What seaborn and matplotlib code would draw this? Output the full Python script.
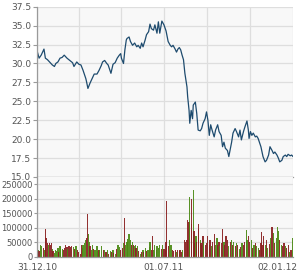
import numpy as np
import pandas as pd
import matplotlib
matplotlib.use("Agg")
import matplotlib.pyplot as plt
import matplotlib.dates as mdates
import matplotlib.transforms as mtrans
import matplotlib.ticker as mticker
import seaborn as sns

# ---------------- data ----------------
start_date = "2010-12-31"
end_date = "2012-01-02"

# price: day offset from start_date and closing value
price_day = [0, 3, 6, 10, 12, 15, 19, 22, 25, 27, 30, 33, 36, 39, 43, 47, 51, 53, 57, 60,
             63, 66, 70, 71, 73, 76, 79, 82, 86, 89, 92,
             94, 97, 100, 102, 106, 109, 112, 115, 118, 120, 121, 124, 126, 128, 129, 132,
             134, 137, 140, 143, 145, 148, 150, 152, 155, 157, 160, 162, 164, 167, 169, 172,
             174, 176, 179, 182, 185,
             188, 191, 193, 195, 198, 200, 202, 204, 206, 208, 210, 212, 215, 216, 218, 219,
             221, 223, 224, 227, 229, 231, 234, 236, 238, 241, 243, 245, 247, 249, 251, 254,
             256, 259, 261, 264, 266, 268, 270, 273, 275,
             279, 281, 284, 286, 289, 291, 293, 296, 298, 301, 303, 304, 306, 308, 310, 313,
             315, 317, 321, 324, 327, 329, 332, 334, 337, 339, 341, 344, 346, 348, 351, 353,
             356, 358, 360, 363, 365, 367]
price = [31.7, 30.7, 31.1, 31.9, 30.7, 30.5, 30.1, 29.8, 29.6, 30.0, 30.2, 30.7, 30.8, 31.1, 30.7, 30.4, 30.1, 29.6, 30.2, 29.9,
         29.8, 29.1, 28.0, 27.6, 26.7, 27.4, 28.0, 28.6, 28.6, 29.1, 29.7,
         30.2, 30.4, 30.0, 29.8, 28.7, 29.9, 30.1, 30.7, 31.1, 31.3, 30.7, 30.0, 31.8, 33.1, 33.3, 33.5,
         32.9, 32.4, 32.7, 32.2, 32.4, 32.0, 32.7, 32.2, 33.1, 33.8, 34.2, 35.2, 34.6, 34.4, 35.1, 34.0,
         35.5, 34.0, 35.6, 35.1, 34.3,
         32.9, 32.4, 32.2, 32.4, 31.9, 31.5, 31.9, 32.1, 31.8, 31.1, 30.5, 28.7, 26.9, 25.6, 23.8, 22.1,
         23.8, 22.7, 24.5, 24.9, 23.4, 21.2, 21.1, 21.4, 22.1, 22.7, 23.6, 22.5, 20.5, 21.9, 21.2, 20.3,
         21.2, 21.9, 21.0, 20.5, 19.0, 19.6, 18.8, 18.5, 17.7,
         19.6, 20.8, 21.4, 21.0, 20.3, 21.2, 19.9, 21.0, 21.6, 22.4, 21.2, 20.1, 21.0, 20.5, 20.8, 20.3,
         20.4, 20.1, 19.0, 17.7, 17.0, 17.2, 17.9, 19.0, 18.5, 18.1, 18.3, 17.9, 17.5, 17.0, 17.2, 17.7,
         17.9, 17.7, 18.0, 17.8, 17.9, 17.7]

# volume: day offset, volume (thousand shares), up-day flag (1 = green, 0 = red)
vol_day = [0, 2, 3, 5, 7, 9, 11, 12, 13, 15, 16, 18, 19, 21, 22, 23, 25, 26, 28, 30,
           31, 33, 34, 36, 38, 39, 41, 43, 44, 46, 48, 50, 52, 54, 56, 58, 60, 62, 64, 65,
           66, 68, 69, 71, 72, 74, 75, 76, 78, 79, 81, 82, 84, 86, 87, 89,
           90, 93, 95, 97, 99, 101, 103, 105, 107, 109, 110, 112, 114, 116, 118, 120, 122, 124, 125, 127,
           129, 130, 132, 134, 135, 137, 138, 140, 141, 142, 144, 146, 148, 150, 152, 153, 155, 157, 159, 161,
           162, 164, 166, 167, 169, 171, 172, 174, 176, 178, 180, 182, 184,
           185, 186, 188, 190, 192, 194, 196, 198, 200, 202, 204, 205, 207, 209, 211, 213, 215, 216, 218, 219,
           221, 222, 224, 225, 226, 228, 229, 231, 232, 234, 235, 236, 238, 239, 241, 243, 245, 247, 248, 250,
           252, 254, 256, 258, 259, 261, 262, 264, 266, 268, 269, 271, 273, 275, 277,
           279, 280, 282, 284, 286, 288, 290, 292, 294, 296, 298, 300, 301, 303, 305, 307, 309, 311, 313, 315,
           317, 319, 321, 322, 324, 325, 327, 329, 331, 333, 335, 337, 339, 341, 343, 345, 346, 348, 350, 352,
           354, 356, 358, 360, 362, 364, 366]
volume_k = [58, 23, 21, 40, 36, 30, 23, 96, 64, 46, 40, 46, 40, 46, 27, 21, 14, 22, 21, 30,
            17, 36, 32, 27, 22, 30, 39, 32, 27, 36, 32, 36, 32, 27, 36, 22, 17, 10, 39, 30,
            40, 46, 58, 66, 147, 77, 52, 36, 23, 39, 27, 22, 23, 36, 21, 23,
            23, 36, 22, 23, 17, 22, 9, 21, 17, 22, 14, 8, 27, 40, 32, 23, 30, 46, 133, 40,
            52, 62, 77, 58, 40, 52, 40, 36, 40, 30, 36, 21, 9, 17, 23, 17, 30, 21, 22, 32,
            52, 23, 71, 23, 40, 23, 36, 30, 40, 27, 39, 27, 23,
            52, 191, 36, 58, 40, 23, 21, 23, 17, 23, 21, 23, 17, 22, 58, 52, 58, 127, 120, 205,
            200, 112, 231, 90, 46, 70, 52, 97, 112, 58, 46, 40, 73, 52, 40, 46, 70, 40, 58, 36,
            52, 77, 40, 64, 40, 52, 36, 46, 97, 52, 40, 70, 58, 36, 52,
            58, 40, 52, 36, 46, 39, 27, 32, 46, 40, 52, 93, 58, 73, 52, 58, 30, 40, 46, 36,
            30, 23, 46, 85, 40, 70, 40, 58, 30, 43, 64, 101, 81, 46, 64, 104, 87, 58, 40, 36,
            46, 36, 30, 40, 17, 23, 64]
vol_up = [0, 1, 0, 1, 1, 0, 1, 0, 0, 0, 1, 0, 0, 0, 1, 0, 1, 1, 1, 1,
          0, 1, 1, 1, 0, 0, 0, 0, 1, 0, 0, 0, 1, 0, 1, 0, 0, 0, 0, 1,
          1, 1, 1, 0, 0, 1, 1, 0, 1, 1, 0, 1, 1, 1, 1, 0,
          1, 1, 0, 1, 0, 1, 0, 1, 0, 1, 0, 1, 0, 1, 1, 0, 0, 1, 0, 1,
          1, 1, 1, 1, 0, 1, 0, 1, 1, 0, 1, 0, 1, 0, 1, 0, 1, 0, 1, 1,
          1, 0, 0, 1, 1, 0, 1, 1, 1, 0, 1, 0, 0,
          0, 0, 0, 1, 1, 0, 0, 0, 1, 0, 1, 0, 0, 1, 0, 0, 0, 0, 0, 1,
          0, 0, 1, 0, 0, 1, 0, 0, 0, 1, 0, 0, 0, 1, 0, 0, 0, 1, 0, 1,
          0, 0, 1, 1, 0, 0, 1, 0, 0, 1, 0, 0, 0, 1, 0,
          1, 0, 1, 0, 1, 0, 1, 0, 1, 0, 0, 1, 1, 0, 0, 1, 0, 1, 0, 1,
          1, 0, 0, 0, 0, 0, 1, 0, 1, 0, 1, 0, 1, 0, 1, 1, 1, 0, 1, 0,
          0, 1, 0, 0, 1, 0, 1]

price_ticks = [15.0, 17.5, 20.0, 22.5, 25.0, 27.5, 30.0, 32.5, 35.0, 37.5]
vol_ticks = [0, 50000, 100000, 150000, 200000, 250000]
x_label_dates = ["2010-12-31", "2011-07-01", "2012-01-02"]
x_grid_dates = ["2011-03-01", "2011-05-01", "2011-09-01", "2011-11-01"]

# ---------------- build frames ----------------
t0 = pd.Timestamp(start_date)
price_df = pd.DataFrame({"date": t0 + pd.to_timedelta(price_day, unit="D"), "price": price})
vol_df = pd.DataFrame({"date": t0 + pd.to_timedelta(vol_day, unit="D"),
                       "volume": [v * 1000 for v in volume_k], "up": vol_up})

# ---------------- style ----------------
sns.set_theme(style="white")
plt.rcParams["font.family"] = ["DejaVu Sans"]

TXT = "#555555"
GRID = "#dedede"
SPINE = "#9a9a9a"
FACE = "#f8f8f8"
LINE = "#1e4b6e"
GREEN = "#4b8a14"
RED = "#8a2020"

fig = plt.figure(figsize=(2.99, 2.80), dpi=100)
fig.patch.set_facecolor("white")
ax1 = fig.add_axes([37 / 299, 103 / 280, 256 / 299, 170.3 / 280])
ax2 = fig.add_axes([37 / 299, 23.3 / 280, 256 / 299, 79.7 / 280], sharex=ax1)

for ax in (ax1, ax2):
    ax.set_facecolor(FACE)
    for s in ("top", "right"):
        ax.spines[s].set_visible(False)
    for s in ("left", "bottom"):
        ax.spines[s].set_color(SPINE)
        ax.spines[s].set_linewidth(0.9)
    ax.grid(True, which="both", color=GRID, linewidth=0.9)
    ax.set_axisbelow(True)

# price line
sns.lineplot(data=price_df, x="date", y="price", ax=ax1, color=LINE, linewidth=0.9)
ax1.set_ylim(15, 37.5)
ax1.set_yticks(price_ticks)
ax1.yaxis.set_major_formatter(mticker.FormatStrFormatter("%.1f"))
ax1.set_xlabel("")
ax1.set_ylabel("")

# volume bars
bar_colors = [GREEN if u else RED for u in vol_df["up"]]
ax2.bar(vol_df["date"], vol_df["volume"], width=1.7, color=bar_colors,
        linewidth=0, alpha=0.92)
ax2.set_ylim(0, 275000)
ax2.set_yticks(vol_ticks)
ax2.yaxis.set_major_formatter(mticker.FormatStrFormatter("%d"))
ax2.set_xlabel("")
ax2.set_ylabel("")

# x axis
ax2.set_xlim(pd.Timestamp(start_date), pd.Timestamp(end_date))
ax2.set_xticks([pd.Timestamp(d) for d in x_label_dates])
ax2.set_xticks([pd.Timestamp(d) for d in x_grid_dates], minor=True)
ax2.xaxis.set_major_formatter(mdates.DateFormatter("%d.%m.%y"))

ax1.tick_params(axis="x", which="both", length=0, labelbottom=False)
ax2.tick_params(axis="x", which="major", length=3, width=0.8, color=SPINE,
                labelsize=6.5, labelcolor=TXT, pad=1.5)
ax2.tick_params(axis="x", which="minor", length=0)
ax1.tick_params(axis="y", length=3, width=0.8, color=SPINE, labelsize=6.5,
                labelcolor=TXT, pad=1.2, left=True)
ax2.tick_params(axis="y", length=2.5, width=0.8, color=SPINE, labelsize=6.0,
                labelcolor=TXT, pad=0.8, left=True)

# keep last date label inside the figure
lab = ax2.get_xticklabels()[-1]
lab.set_horizontalalignment("right")
lab.set_transform(lab.get_transform() + mtrans.ScaledTranslation(4 / 100, 0, fig.dpi_scale_trans))

fig.savefig("out.png", dpi=100, facecolor="white")
